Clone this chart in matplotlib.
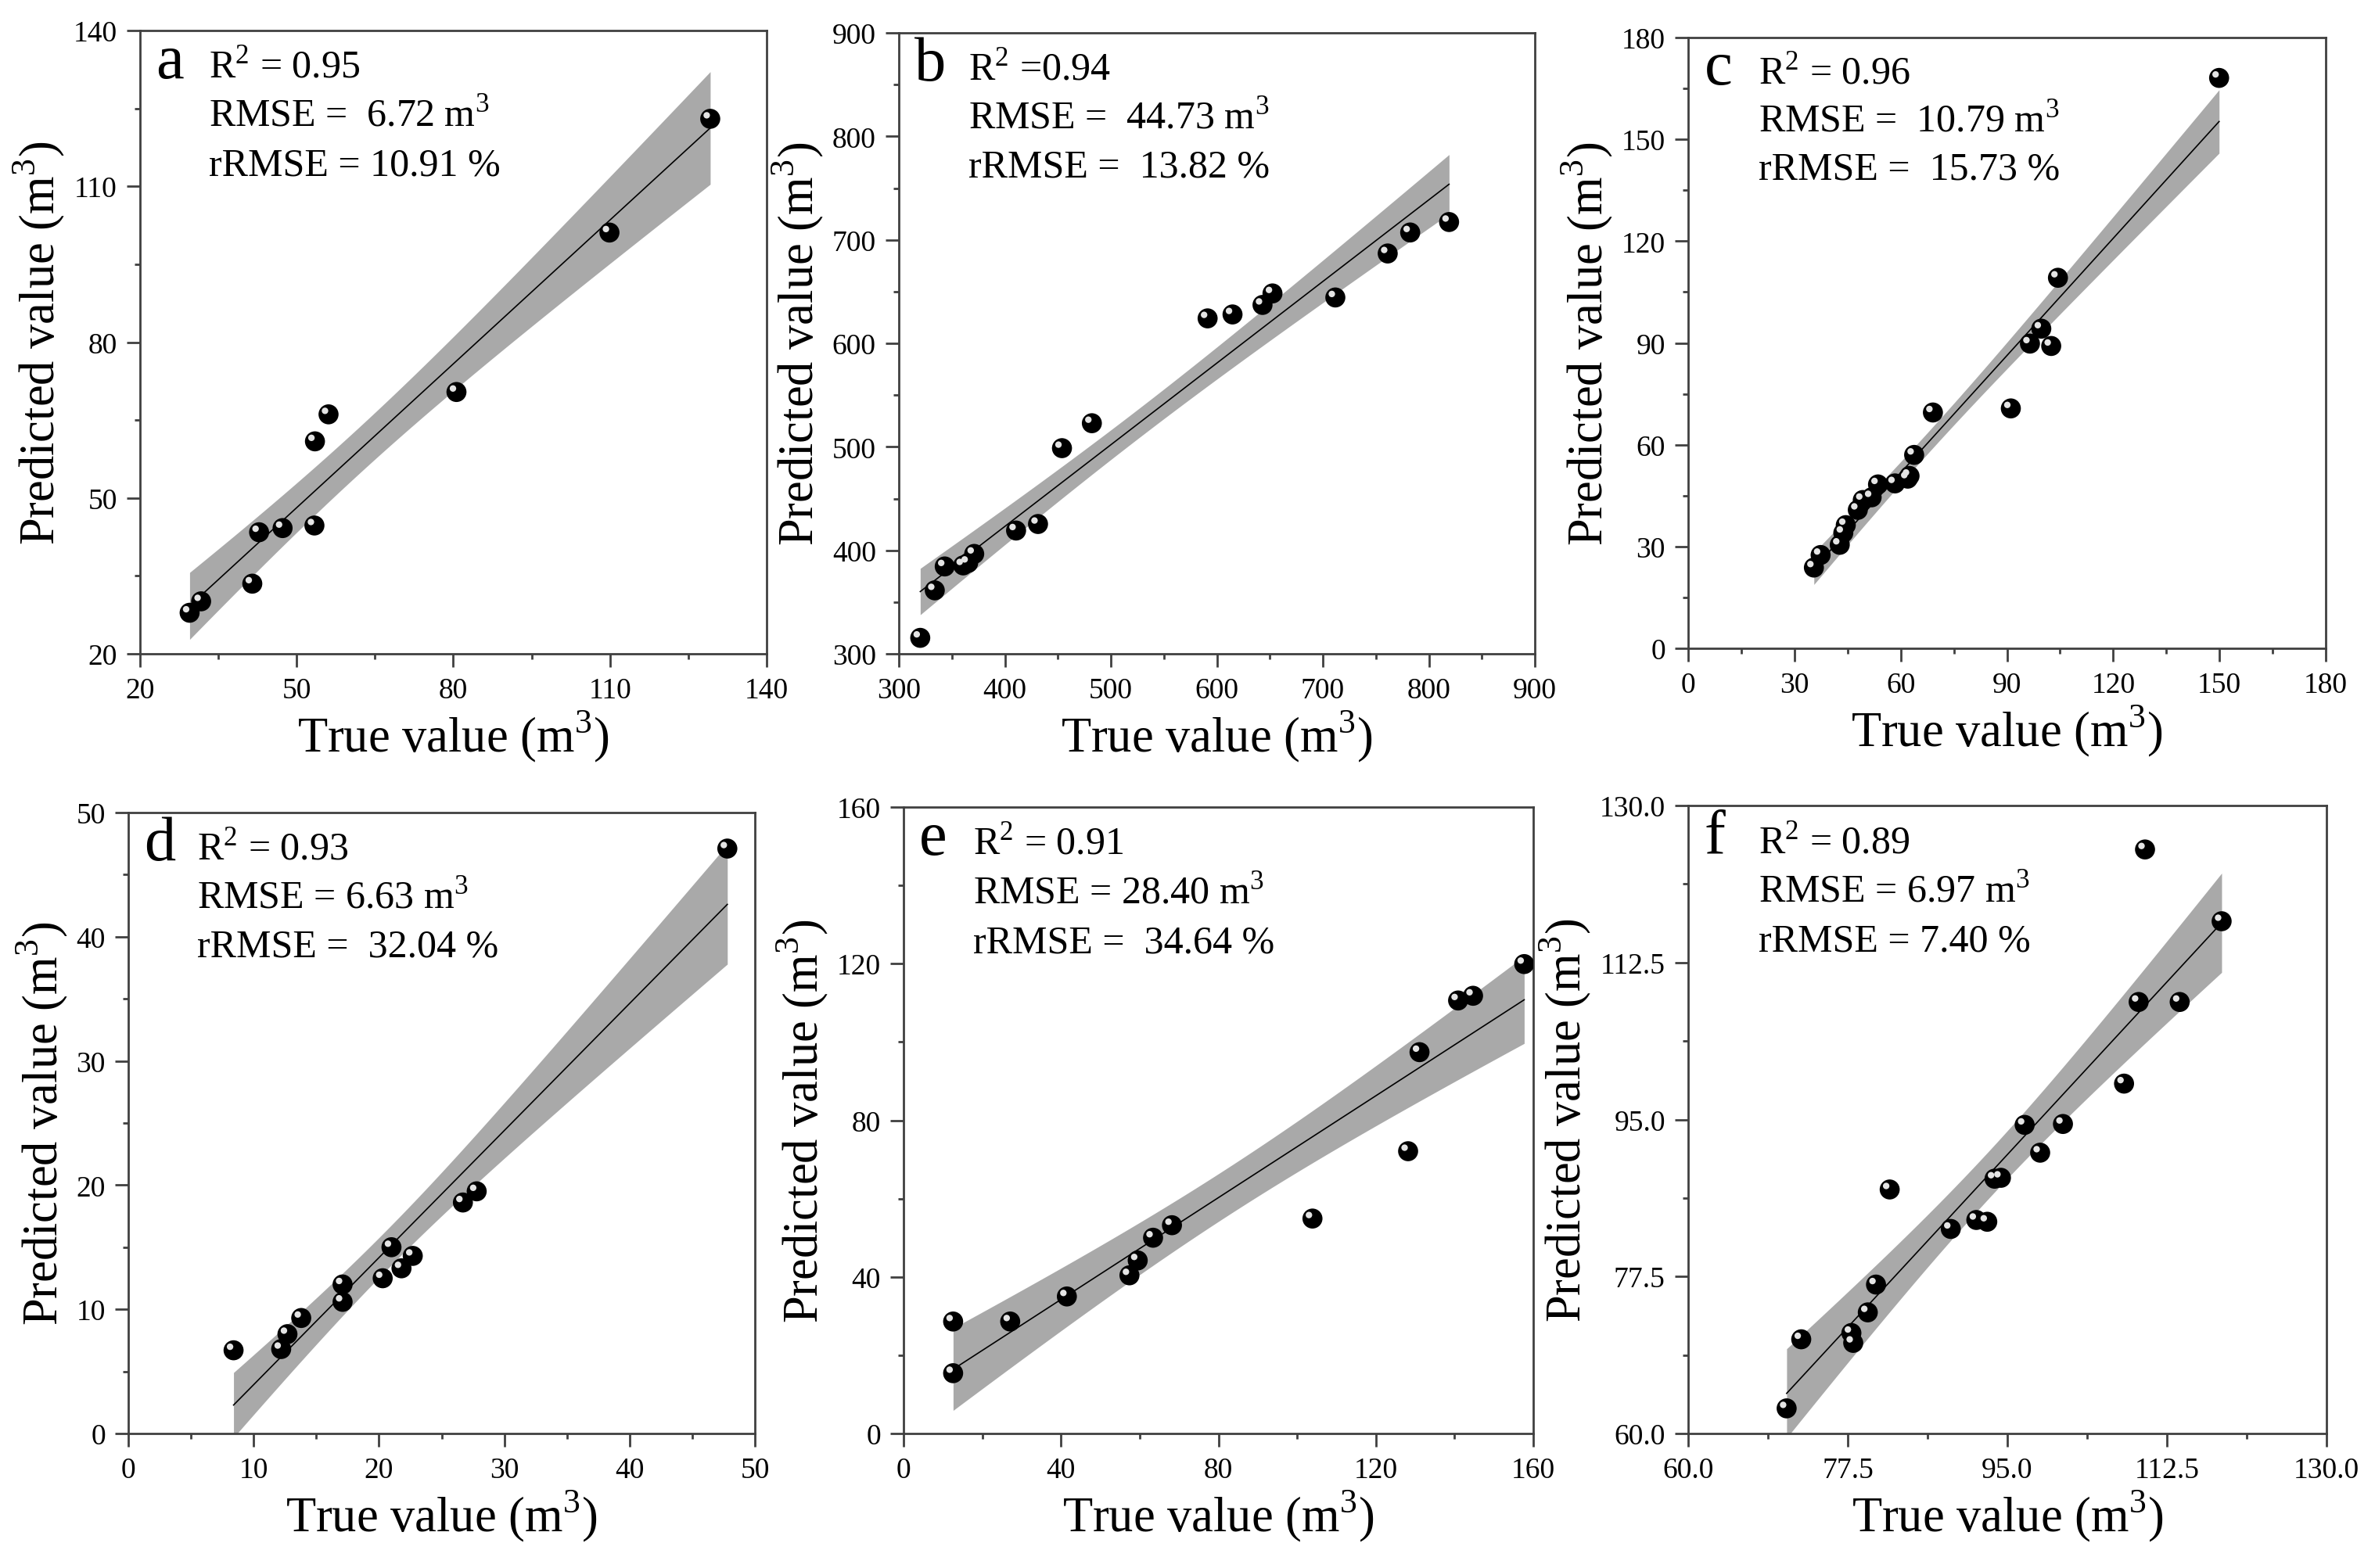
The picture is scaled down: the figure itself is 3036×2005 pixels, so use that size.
import matplotlib
matplotlib.use("Agg")
import matplotlib.pyplot as plt
import matplotlib.transforms as mtransforms
from matplotlib.ticker import FixedLocator, FormatStrFormatter
import numpy as np

plt.rcParams["font.family"] = ["Liberation Serif", "DejaVu Serif"]
plt.rcParams["mathtext.fontset"] = "custom"
plt.rcParams["mathtext.rm"] = "Liberation Serif"

# ---- data (true, predicted) ----
a_true = [29.5, 31.7, 41.5, 42.8, 47.3, 53.4, 53.5, 56.1, 80.6, 109.9, 129.2]
a_pred = [27.9, 30.1, 33.5, 43.4, 44.2, 44.7, 60.9, 66.1, 70.4, 101.1, 123.0]

b_true = [320.2, 333.9, 343.3, 360.7, 365.4, 371.1, 410.6, 431.3, 453.9,
          482.1, 591.3, 614.8, 643.1, 652.5, 711.8, 761.2, 782.4, 819.1]
b_pred = [315.4, 361.3, 384.4, 385.4, 387.8, 396.5, 419.1, 425.4, 498.7,
          522.8, 624.1, 627.9, 637.1, 648.2, 644.3, 686.8, 707.1, 717.2]

c_true = [35.5, 37.4, 42.8, 43.8, 44.5, 47.9, 49.3, 51.8, 53.6, 58.4,
          62.0, 62.5, 63.8, 69.1, 91.1, 96.5, 99.7, 102.5, 104.4, 149.9]
c_pred = [23.8, 27.5, 30.5, 34.0, 36.3, 40.8, 43.7, 44.5, 48.3, 48.6,
          50.0, 50.8, 57.0, 69.5, 70.7, 89.8, 94.2, 89.1, 109.2, 168.1]

d_true = [8.4, 12.2, 12.7, 13.8, 17.1, 17.1, 20.3, 21.0, 21.8, 22.7, 26.7, 27.8, 47.8]
d_pred = [6.7, 6.8, 8.0, 9.3, 10.6, 12.0, 12.5, 15.0, 13.3, 14.3, 18.6, 19.5, 47.1]

e_true = [12.6, 12.6, 27.1, 41.5, 57.4, 59.5, 63.4, 68.2, 103.9, 128.2,
          131.1, 140.9, 144.7, 157.7]
e_pred = [28.6, 15.4, 28.6, 35.0, 40.4, 44.2, 50.0, 53.2, 54.9, 72.1,
          97.4, 110.6, 111.8, 119.9]

f_true = [70.8, 72.4, 77.9, 78.1, 79.7, 80.6, 82.1, 88.8, 91.6, 92.8,
          93.6, 94.3, 96.9, 98.6, 101.1, 107.8, 109.4, 110.1, 113.9, 118.5]
f_pred = [62.8, 70.5, 71.2, 70.1, 73.5, 76.6, 87.2, 82.8, 83.8, 83.6,
          88.4, 88.5, 94.4, 91.3, 94.5, 99.0, 108.1, 125.1, 108.1, 117.1]

SQ = r"$^{\mathrm{2}}$"
CU = r"$^{\mathrm{3}}$"
labels = ["a", "b", "c", "d", "e", "f"]
stats_text = [
    ["R" + SQ + " = 0.95", "RMSE =  6.72 m" + CU, "rRMSE = 10.91 %"],
    ["R" + SQ + " =0.94", "RMSE =  44.73 m" + CU, "rRMSE =  13.82 %"],
    ["R" + SQ + " = 0.96", "RMSE =  10.79 m" + CU, "rRMSE =  15.73 %"],
    ["R" + SQ + " = 0.93", "RMSE = 6.63 m" + CU, "rRMSE =  32.04 %"],
    ["R" + SQ + " = 0.91", "RMSE = 28.40 m" + CU, "rRMSE =  34.64 %"],
    ["R" + SQ + " = 0.89", "RMSE = 6.97 m" + CU, "rRMSE = 7.40 %"],
]
axis_limits = [(20, 140), (300, 900), (0, 180), (0, 50), (0, 160), (60, 130)]
tick_steps = [30, 100, 30, 10, 40, 17.5]

# panel boxes in pixels: left, top, right, bottom
W, H = 3036, 2006
boxes = [
    (179, 40, 980, 837),
    (1149, 43, 1962, 837),
    (2158, 49, 2973, 830),
    (164, 1040, 965, 1834),
    (1155, 1033, 1960, 1834),
    (2158, 1031, 2974, 1834),
]

# two-sided 95% t quantiles by degrees of freedom
T95 = {9: 2.262, 11: 2.201, 12: 2.179, 16: 2.120, 18: 2.101}

BAND_COLOR = "#a9a9a9"
SPINE_COLOR = "#404040"


def draw_panel(fig, box, xs, ys, letter, lines, lim, step):
    left, top, right, bottom = box
    ax = fig.add_axes([left / W, 1 - bottom / H, (right - left) / W, (bottom - top) / H])

    x = np.asarray(xs, dtype=float)
    y = np.asarray(ys, dtype=float)
    n = len(x)
    slope, icpt = np.polyfit(x, y, 1)
    resid = y - (slope * x + icpt)
    s = np.sqrt(np.sum(resid ** 2) / (n - 2))
    sxx = np.sum((x - x.mean()) ** 2)
    xg = np.linspace(x.min(), x.max(), 200)
    yg = slope * xg + icpt
    half = T95[n - 2] * s * np.sqrt(1.0 / n + (xg - x.mean()) ** 2 / sxx)

    ax.fill_between(xg, yg - half, yg + half, color=BAND_COLOR, lw=0, zorder=1)
    ax.plot(xg, yg, color="black", lw=1.2, zorder=2)

    # dark spheres with a small highlight
    ax.scatter(x, y, s=340, color="black", edgecolors="none", zorder=3)
    shift = mtransforms.ScaledTranslation(-0.045, 0.045, fig.dpi_scale_trans)
    ax.scatter(x, y, s=36, color="#e4e4e4", edgecolors="none", zorder=4,
               transform=ax.transData + shift)

    ax.set_xlim(*lim)
    ax.set_ylim(*lim)
    major = np.arange(lim[0], lim[1] + step / 100, step)
    minor = np.arange(lim[0] + step / 2, lim[1], step)
    for axis in (ax.xaxis, ax.yaxis):
        axis.set_major_locator(FixedLocator(major))
        axis.set_minor_locator(FixedLocator(minor))
        if step == 17.5:
            axis.set_major_formatter(FormatStrFormatter("%.1f"))
        else:
            axis.set_major_formatter(FormatStrFormatter("%d"))
    ax.tick_params(which="major", direction="out", length=12, width=2,
                   color=SPINE_COLOR, labelsize=27, pad=9)
    ax.tick_params(which="minor", direction="out", length=5, width=2, color=SPINE_COLOR)
    for sp in ax.spines.values():
        sp.set_color(SPINE_COLOR)
        sp.set_linewidth(2)

    ax.set_xlabel("True value (m" + CU + ")", fontsize=45, labelpad=4)
    ax.set_ylabel("Predicted value (m" + CU + ")", fontsize=45, labelpad=6)

    ax.text(0.025, 0.925, letter, transform=ax.transAxes, fontsize=58,
            va="baseline", ha="left")
    for i, line in enumerate(lines):
        ax.text(0.11, 0.925 - i * 0.078, line, transform=ax.transAxes,
                fontsize=36, va="baseline", ha="left")
    return ax


fig = plt.figure(figsize=(W / 100, H / 100), dpi=100)
series = [(a_true, a_pred), (b_true, b_pred), (c_true, c_pred),
          (d_true, d_pred), (e_true, e_pred), (f_true, f_pred)]
for k in range(6):
    draw_panel(fig, boxes[k], series[k][0], series[k][1], labels[k],
               stats_text[k], axis_limits[k], tick_steps[k])

fig.savefig("out.png", dpi=100, facecolor="white")
